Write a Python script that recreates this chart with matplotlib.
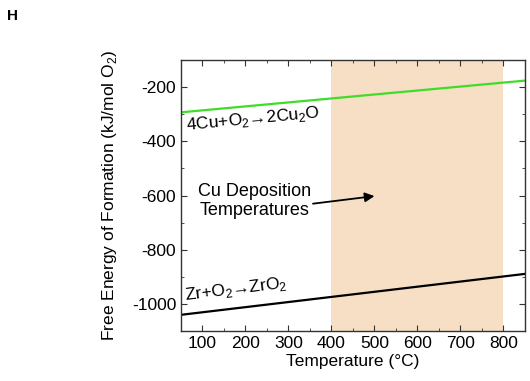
import matplotlib
matplotlib.use('Agg')
import matplotlib.pyplot as plt
from matplotlib.ticker import MultipleLocator

plt.rcParams['font.family'] = ['Liberation Sans', 'DejaVu Sans']
plt.rcParams['mathtext.fontset'] = 'custom'
plt.rcParams['mathtext.rm'] = 'Liberation Sans'
plt.rcParams['axes.unicode_minus'] = False

# temperature endpoints (°C) and free energy (kJ/mol O2)
temps = [50, 850]
cu2o_energy = [-293, -176]
zro2_energy = [-1040, -889]
deposition_range = [400, 800]

fig = plt.figure(figsize=(5.3, 3.81), dpi=100)
ax = fig.add_axes([0.3415, 0.131, 0.649, 0.7115])

ax.axvspan(deposition_range[0], deposition_range[1], color='#f6dfc4', lw=0, zorder=0)
ax.plot(temps, cu2o_energy, color='#3fdc2a', lw=1.6, zorder=2)
ax.plot(temps, zro2_energy, color='black', lw=1.6, zorder=2)

ax.text(62, -340, '4Cu+O$_2$→2Cu$_2$O', fontsize=12.5,
        rotation=5.5, rotation_mode='anchor', ha='left', va='center')
ax.text(60, -968, 'Zr+O$_2$→ZrO$_2$', fontsize=12.5,
        rotation=7, rotation_mode='anchor', ha='left', va='center')
ax.text(220, -620, 'Cu Deposition\nTemperatures', fontsize=13,
        ha='center', va='center', linespacing=1.2)
ax.annotate('', xy=(500, -602), xytext=(357, -630),
            arrowprops=dict(arrowstyle='-|>', color='black', lw=1.3,
                            mutation_scale=14, shrinkA=0, shrinkB=0))

ax.set_xlim(50, 850)
ax.set_ylim(-1100, -100)
ax.xaxis.set_minor_locator(MultipleLocator(50))
ax.yaxis.set_minor_locator(MultipleLocator(100))
ax.set_xticks(range(100, 801, 100))
ax.set_yticks(range(-1000, -199, 200))
ax.tick_params(which='both', direction='in', top=True, right=True,
               labelsize=12.5, color='#333333')
ax.tick_params(which='major', length=4)
ax.tick_params(which='minor', length=2.5)
for s in ax.spines.values():
    s.set_color('#333333')
    s.set_linewidth(1.0)

ax.set_xlabel('Temperature (°C)', fontsize=12.5, labelpad=2)
ax.set_ylabel('Free Energy of Formation (kJ/mol O$_2$)', fontsize=12.5, labelpad=9)

fig.text(0.013, 0.958, 'H', fontsize=11, fontweight='bold', ha='left', va='center')

fig.savefig('out.png', dpi=100)
